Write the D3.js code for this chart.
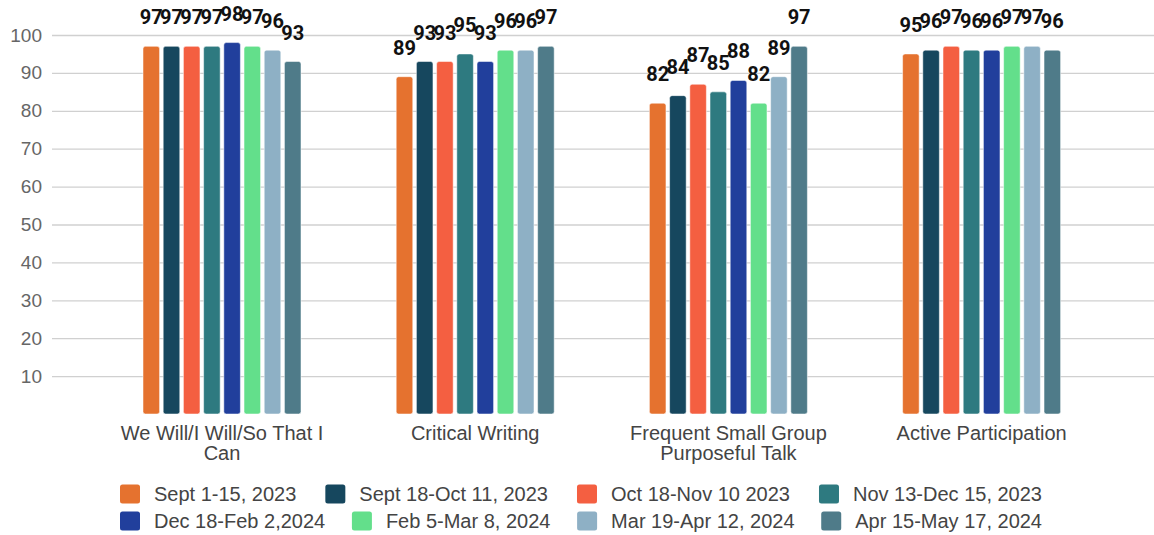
<!DOCTYPE html>
<html>
<head>
<meta charset="utf-8">
<script src="https://cdn.jsdelivr.net/npm/d3@7"></script>
<style>
  body { margin: 0; background: #fff; }
  svg { display: block; }
</style>
</head>
<body>
<div class="chart"></div>
<script>
// grouped bar chart - look-for percentages by walkthrough window

var categories = [
  ["We Will/I Will/So That I", "Can"],
  ["Critical Writing"],
  ["Frequent Small Group", "Purposeful Talk"],
  ["Active Participation"]
];
var seriesNames = [
  "Sept 1-15, 2023", "Sept 18-Oct 11, 2023", "Oct 18-Nov 10 2023", "Nov 13-Dec 15, 2023",
  "Dec 18-Feb 2,2024", "Feb 5-Mar 8, 2024", "Mar 19-Apr 12, 2024", "Apr 15-May 17, 2024"
];
var seriesColors = [
  "#e5722f", "#16475e", "#f45f41", "#2e7a80",
  "#213f9c", "#63df8b", "#8eb0c5", "#4f7b89"
];
// values[series][category]
var values = [
  [97, 89, 82, 95],
  [97, 93, 84, 96],
  [97, 93, 87, 97],
  [97, 95, 85, 96],
  [98, 93, 88, 96],
  [97, 96, 82, 97],
  [96, 96, 89, 97],
  [93, 97, 97, 96]
];
var yTicks = [10, 20, 30, 40, 50, 60, 70, 80, 90, 100];

var width = 1154,
    height = 535;

var svg = d3.select(".chart").append("svg")
    .attr("width", width)
    .attr("height", height);

/* scales */
var x0 = d3.scaleBand()
    .domain(d3.range(categories.length))
    .range([95.4, 1108.2])
    .paddingInner(0.376)
    .paddingOuter(0.188);

var x1 = d3.scaleBand()
    .domain(d3.range(seriesNames.length))
    .range([0, x0.bandwidth()])
    .paddingInner(0.18);

var y = d3.scaleLinear().domain([0, 100]).range([414, 35]);

/* grid + y labels */
var yAxis = svg.append("g")
    .attr("transform", "translate(52,0)")
    .call(d3.axisLeft(y).tickValues(yTicks).tickSize(-(width - 52)).tickPadding(10));
yAxis.select(".domain").remove();
yAxis.selectAll(".tick line").attr("stroke", "#d0d0d0").attr("stroke-width", 1.3);
yAxis.selectAll(".tick text")
    .attr("fill", "#666")
    .style("font-family", "'Liberation Sans', Arial, sans-serif")
    .style("font-size", "19px");

/* bars */
var groups = svg.append("g").selectAll("g")
    .data(categories)
    .join("g")
    .attr("transform", function(d, i) { return "translate(" + x0(i) + ",0)"; });

groups.selectAll("rect")
    .data(function(d, ci) { return values.map(function(s, si) { return {s: si, v: s[ci]}; }); })
    .join("rect")
    .attr("x", function(d) { return x1(d.s); })
    .attr("y", function(d) { return y(d.v); })
    .attr("width", x1.bandwidth())
    .attr("height", function(d) { return y(0) - y(d.v); })
    .attr("rx", 2.5)
    .attr("fill", function(d) { return seriesColors[d.s]; })
    .attr("stroke", "#ffffff")
    .attr("stroke-opacity", 0.5)
    .attr("stroke-width", 1);

/* value labels */
groups.selectAll("text.val")
    .data(function(d, ci) { return values.map(function(s, si) { return {s: si, v: s[ci]}; }); })
    .join("text")
    .attr("class", "val")
    .attr("x", function(d) { return x1(d.s) + x1.bandwidth() / 2; })
    .attr("y", function(d) { return y(d.v) - 22; })
    .attr("text-anchor", "middle")
    .attr("fill", "#111")
    .style("font-family", "Roboto, 'Liberation Sans', sans-serif")
    .style("font-weight", "700")
    .style("font-size", "20px")
    .text(function(d) { return d.v; });

/* category labels */
groups.append("text")
    .attr("x", x0.bandwidth() / 2)
    .attr("text-anchor", "middle")
    .attr("fill", "#444")
    .style("font-family", "'Liberation Sans', Arial, sans-serif")
    .style("font-size", "20px")
    .selectAll("tspan")
    .data(function(d) { return d; })
    .join("tspan")
    .attr("x", x0.bandwidth() / 2)
    .attr("y", function(d, i) { return 440 + i * 19.5; })
    .text(function(d) { return d; });

/* legend: 2 rows of 4, spread between 120 and 1042 */
var rows = [[0, 1, 2, 3], [4, 5, 6, 7]];
var rowY = [494, 521];
var legend = svg.append("g");
rows.forEach(function(row, r) {
  var items = row.map(function(si) {
    var g = legend.append("g");
    g.append("rect")
        .attr("width", 20).attr("height", 19)
        .attr("y", rowY[r] - 9.5)
        .attr("rx", 2.5)
        .attr("fill", seriesColors[si]);
    var t = g.append("text")
        .attr("x", 34)
        .attr("y", rowY[r] + 7)
        .attr("fill", "#444")
        .style("font-family", "'Liberation Sans', Arial, sans-serif")
        .style("font-size", "20px")
        .text(seriesNames[si]);
    return {g: g, w: 34 + t.node().getComputedTextLength()};
  });
  var total = d3.sum(items, function(d) { return d.w; });
  var gap = (1042 - 120 - total) / (items.length - 1);
  var xPos = 120;
  items.forEach(function(it) {
    it.g.attr("transform", "translate(" + xPos + ",0)");
    xPos += it.w + gap;
  });
});
</script>
</body>
</html>
